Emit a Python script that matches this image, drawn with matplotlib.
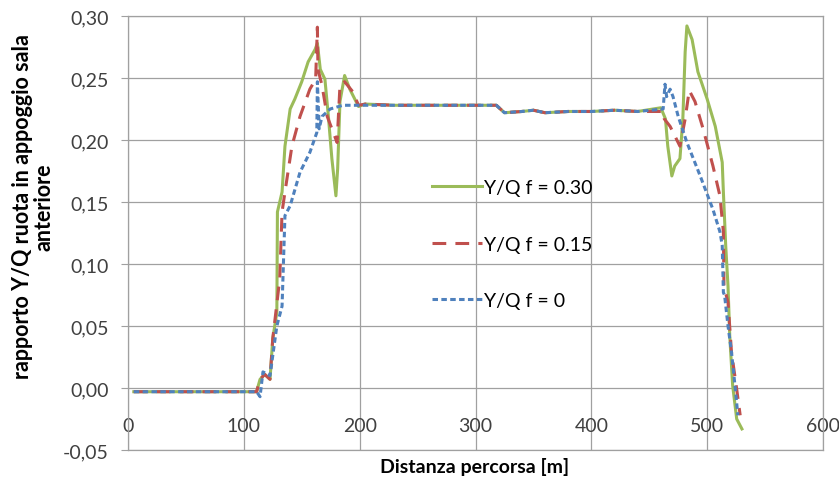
import matplotlib
matplotlib.use("Agg")
import matplotlib.pyplot as plt
from matplotlib.ticker import FuncFormatter

plt.rcParams['font.family'] = ['Lato', 'DejaVu Sans']

# Y/Q f = 0.30
x_030 = [5, 50, 100, 111, 114, 118, 122.6, 125, 128.5, 129, 133, 135.5, 140, 144, 150,
         155.5, 161.5, 163.5, 166, 170, 173, 176, 179.5, 181, 183, 187, 191.5, 199,
         204.5, 230, 260, 290, 318, 325, 340, 350, 360, 380, 400, 420, 440, 460, 464,
         466, 469.5, 472, 476.5, 479, 481, 482.5, 487, 492, 500, 507, 513, 514, 516,
         518, 519.5, 522, 525.5, 530]
y_030 = [-0.003, -0.003, -0.003, -0.003, 0.007, 0.011, 0.007, 0.040, 0.061, 0.142,
         0.158, 0.195, 0.225, 0.233, 0.247, 0.263, 0.273, 0.278, 0.257, 0.249, 0.219,
         0.185, 0.155, 0.177, 0.231, 0.252, 0.241, 0.227, 0.229, 0.228, 0.228, 0.228,
         0.228, 0.222, 0.223, 0.224, 0.222, 0.223, 0.223, 0.224, 0.223, 0.226, 0.217,
         0.195, 0.171, 0.179, 0.185, 0.217, 0.271, 0.292, 0.281, 0.255, 0.233, 0.211,
         0.182, 0.158, 0.115, 0.082, 0.042, 0.002, -0.025, -0.033]

# Y/Q f = 0.15
x_015 = [5, 50, 100, 111, 114, 118, 122.6, 125, 131, 133, 135.5, 141.5, 148.5, 157,
         162, 163.5, 164, 167.5, 172, 180.5, 183, 187, 194, 199, 205, 230, 260, 290,
         318, 325, 340, 350, 360, 380, 400, 420, 440, 462, 463, 468, 476.5, 481, 484.5,
         489.5, 496.5, 505, 511, 514, 514.5, 518, 521, 525.5, 528.5]
y_015 = [-0.003, -0.003, -0.003, -0.003, 0.007, 0.011, 0.007, 0.040, 0.088, 0.142,
         0.158, 0.195, 0.219, 0.241, 0.249, 0.291, 0.257, 0.244, 0.219, 0.198, 0.244,
         0.247, 0.239, 0.228, 0.229, 0.228, 0.228, 0.228, 0.228, 0.222, 0.223, 0.224,
         0.222, 0.223, 0.223, 0.224, 0.223, 0.223, 0.217, 0.211, 0.195, 0.217, 0.240,
         0.231, 0.209, 0.179, 0.155, 0.126, 0.082, 0.069, 0.029, -0.001, -0.022]

# Y/Q f = 0
x_000 = [5, 50, 100, 111, 114, 116.5, 122.6, 128.5, 133, 135.5, 140, 148.5, 157, 163,
         163.5, 165, 167.5, 174.5, 185.5, 230, 260, 290, 318, 325, 340, 350, 360, 380,
         400, 420, 440, 462, 463.6, 465, 468, 470.5, 475, 482.5, 494, 505, 511, 513,
         514, 515, 518, 521, 524, 526.5]
y_000 = [-0.003, -0.003, -0.003, -0.003, -0.007, 0.013, 0.010, 0.050, 0.066, 0.139,
         0.147, 0.174, 0.190, 0.206, 0.247, 0.209, 0.219, 0.225, 0.228, 0.228, 0.228,
         0.228, 0.228, 0.222, 0.223, 0.224, 0.222, 0.223, 0.223, 0.224, 0.223, 0.225,
         0.245, 0.235, 0.241, 0.235, 0.219, 0.198, 0.171, 0.144, 0.126, 0.115, 0.077,
         0.075, 0.050, 0.029, 0.002, -0.022]

xticks = [0, 100, 200, 300, 400, 500, 600]
yticks = [-0.05, 0.00, 0.05, 0.10, 0.15, 0.20, 0.25, 0.30]

fig = plt.figure(figsize=(8.39, 4.81), dpi=100)
ax = fig.add_axes([128 / 839, 30 / 481, 695 / 839, 434 / 481])

ax.plot(x_030, y_030, color='#9BBB59', lw=2.2, label='Y/Q f = 0.30')
ax.plot(x_015, y_015, color='#C0504D', lw=2.2, dashes=(4.5, 3), label='Y/Q f = 0.15')
ax.plot(x_000, y_000, color='#4F81BD', lw=2.2, dashes=(1.8, 1.1), label='Y/Q f = 0')

ax.set_xlim(0, 600)
ax.set_ylim(-0.05, 0.30)
ax.set_xticks(xticks)
ax.set_yticks(yticks)
ax.yaxis.set_major_formatter(FuncFormatter(lambda v, p: f"{v:.2f}".replace('.', ',')))
ax.grid(True, color='#a0a0a0', lw=0.9)
ax.set_axisbelow(True)
for s in ax.spines.values():
    s.set_color('#a0a0a0')
    s.set_linewidth(0.9)
ax.tick_params(axis='y', length=5, color='#a0a0a0', labelsize=14, labelcolor='#404040', pad=9)
ax.tick_params(axis='x', length=0, labelsize=14, labelcolor='#404040', pad=-23.5)

ax.legend(loc='upper left', bbox_to_anchor=(0.437, 0.624), frameon=False, fontsize=14,
          borderpad=0, borderaxespad=0, handlelength=2.6, handletextpad=0.1,
          labelspacing=2.03)

fig.text(33 / 839, 1 - 207 / 481, 'rapporto Y/Q ruota in appoggio sala\nanteriore',
         rotation=90, ha='center', va='center', ma='center', fontsize=15.5,
         fontweight='bold', linespacing=1.05)
fig.text(475 / 839, 1 - 467 / 481, 'Distanza percorsa [m]', ha='center', va='center',
         fontsize=14, fontweight='bold')

fig.savefig('out.png', dpi=100)
